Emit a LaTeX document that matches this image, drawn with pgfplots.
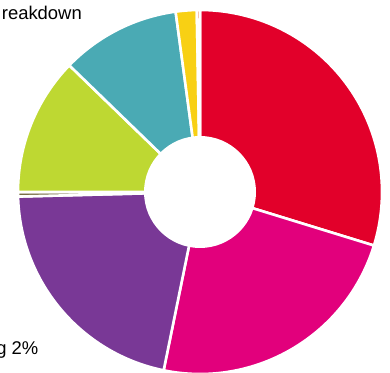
\documentclass[border=0pt]{standalone}
\usepackage{pgfplots}
\usepackage{pgfplotstable}
\pgfplotsset{compat=1.18}
\usepackage{fontspec}
\setmainfont{Liberation Sans}
\definecolor{cRed}{RGB}{226,0,42}
\definecolor{cPink}{RGB}{226,0,124}
\definecolor{cPurple}{RGB}{121,56,150}
\definecolor{cOlive}{RGB}{120,110,70}
\definecolor{cLime}{RGB}{190,216,50}
\definecolor{cTeal}{RGB}{74,170,180}
\definecolor{cYellow}{RGB}{248,208,20}
\definecolor{cOrange}{RGB}{228,90,30}
\pgfplotstableread{
label value color
Red 29.75 cRed
Pink 23.45 cPink
Purple 21.4 cPurple
Olive 0.4 cOlive
Lime 12.25 cLime
Teal 10.61 cTeal
Yellow 1.86 cYellow
Orange 0.28 cOrange
}\slices
\pgfplotstablecreatecol[create col/expr accum={\pgfmathaccuma + \thisrow{value}}{0}]{cum}\slices
\begin{document}
\begin{tikzpicture}
\begin{axis}[
  scale only axis, width=390bp, height=373bp,
  xmin=0, xmax=390, ymin=0, ymax=373,
  hide axis, clip=true,
]
\pgfplotsinvokeforeach{0,...,7}{
  \pgfplotstablegetelem{#1}{value}\of\slices \let\sliceV\pgfplotsretval
  \pgfplotstablegetelem{#1}{cum}\of\slices \let\sliceC\pgfplotsretval
  \pgfplotstablegetelem{#1}{color}\of\slices \let\sliceCol\pgfplotsretval
  \pgfmathsetmacro\sliceE{90-3.6*\sliceC}
  \pgfmathsetmacro\sliceS{\sliceE+3.6*\sliceV}
  \edef\temp{\noexpand\fill[\sliceCol, draw=white, line width=2.6bp, line join=miter]
    (axis cs:200,181) -- ++(\sliceS:182bp) arc[start angle=\sliceS, end angle=\sliceE, radius=182bp] -- cycle;}
  \temp
}
\fill[white] (axis cs:200,181) circle[radius=56bp];
\node[anchor=base east, inner sep=0pt, font=\fontsize{18.5}{22}\selectfont] at (axis cs:82,353) {reakdown};
\node[anchor=base east, inner sep=0pt, font=\fontsize{18.5}{22}\selectfont] at (axis cs:38.5,19) {g 2\%};
\end{axis}
\pgfresetboundingbox
\path[use as bounding box] (current axis.south west) rectangle (current axis.north east);
\end{tikzpicture}
\end{document}
